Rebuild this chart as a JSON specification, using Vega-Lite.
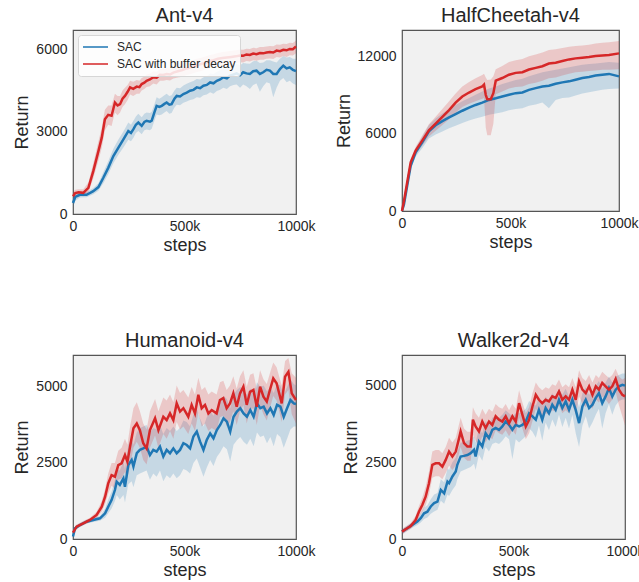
{
  "$schema": "https://vega.github.io/schema/vega-lite/v6.json",
  "padding": {"left": 13, "top": 5, "right": 5, "bottom": 5},
  "background": "white",
  "datasets": {
    "ant": [
      {"method":"SAC","step":0,"ret":400,"lo":250,"hi":550},
      {"method":"SAC","step":10,"ret":620,"lo":480,"hi":760},
      {"method":"SAC","step":31,"ret":700,"lo":600,"hi":800},
      {"method":"SAC","step":61,"ret":700,"lo":610,"hi":800},
      {"method":"SAC","step":91,"ret":830,"lo":720,"hi":950},
      {"method":"SAC","step":114,"ret":980,"lo":850,"hi":1120},
      {"method":"SAC","step":136,"ret":1320,"lo":1120,"hi":1520},
      {"method":"SAC","step":158,"ret":1680,"lo":1450,"hi":1920},
      {"method":"SAC","step":181,"ret":2110,"lo":1850,"hi":2380},
      {"method":"SAC","step":203,"ret":2410,"lo":2150,"hi":2700},
      {"method":"SAC","step":226,"ret":2720,"lo":2420,"hi":3000},
      {"method":"SAC","step":248,"ret":3020,"lo":2700,"hi":3330},
      {"method":"SAC","step":260,"ret":2950,"lo":2650,"hi":3250},
      {"method":"SAC","step":271,"ret":3090,"lo":2780,"hi":3400},
      {"method":"SAC","step":282,"ret":3250,"lo":2950,"hi":3550},
      {"method":"SAC","step":293,"ret":3330,"lo":3020,"hi":3650},
      {"method":"SAC","step":308,"ret":3210,"lo":2900,"hi":3520},
      {"method":"SAC","step":320,"ret":3350,"lo":3050,"hi":3650},
      {"method":"SAC","step":330,"ret":3390,"lo":3080,"hi":3700},
      {"method":"SAC","step":345,"ret":3360,"lo":3050,"hi":3680},
      {"method":"SAC","step":353,"ret":3400,"lo":3100,"hi":3720},
      {"method":"SAC","step":365,"ret":3700,"lo":3400,"hi":4000},
      {"method":"SAC","step":375,"ret":3940,"lo":3620,"hi":4250},
      {"method":"SAC","step":387,"ret":3900,"lo":3600,"hi":4200},
      {"method":"SAC","step":398,"ret":3940,"lo":3620,"hi":4250},
      {"method":"SAC","step":410,"ret":4010,"lo":3700,"hi":4320},
      {"method":"SAC","step":420,"ret":4060,"lo":3750,"hi":4380},
      {"method":"SAC","step":432,"ret":3980,"lo":3650,"hi":4300},
      {"method":"SAC","step":442,"ret":4000,"lo":3680,"hi":4320},
      {"method":"SAC","step":455,"ret":4200,"lo":3880,"hi":4500},
      {"method":"SAC","step":465,"ret":4300,"lo":3980,"hi":4600},
      {"method":"SAC","step":480,"ret":4280,"lo":3960,"hi":4580},
      {"method":"SAC","step":495,"ret":4370,"lo":4050,"hi":4680},
      {"method":"SAC","step":510,"ret":4420,"lo":4100,"hi":4740},
      {"method":"SAC","step":525,"ret":4490,"lo":4150,"hi":4800},
      {"method":"SAC","step":540,"ret":4520,"lo":4180,"hi":4840},
      {"method":"SAC","step":555,"ret":4610,"lo":4250,"hi":4920},
      {"method":"SAC","step":570,"ret":4580,"lo":4230,"hi":4900},
      {"method":"SAC","step":585,"ret":4670,"lo":4320,"hi":4980},
      {"method":"SAC","step":600,"ret":4700,"lo":4350,"hi":5020},
      {"method":"SAC","step":615,"ret":4790,"lo":4430,"hi":5120},
      {"method":"SAC","step":630,"ret":4760,"lo":4380,"hi":5100},
      {"method":"SAC","step":645,"ret":4850,"lo":4480,"hi":5180},
      {"method":"SAC","step":660,"ret":4900,"lo":4520,"hi":5230},
      {"method":"SAC","step":674,"ret":4980,"lo":4600,"hi":5300},
      {"method":"SAC","step":690,"ret":4940,"lo":4550,"hi":5280},
      {"method":"SAC","step":704,"ret":5040,"lo":4650,"hi":5380},
      {"method":"SAC","step":720,"ret":5080,"lo":4700,"hi":5420},
      {"method":"SAC","step":734,"ret":5120,"lo":4720,"hi":5460},
      {"method":"SAC","step":749,"ret":5050,"lo":4600,"hi":5420},
      {"method":"SAC","step":763,"ret":5160,"lo":4720,"hi":5500},
      {"method":"SAC","step":778,"ret":5120,"lo":4650,"hi":5480},
      {"method":"SAC","step":793,"ret":5100,"lo":4550,"hi":5470},
      {"method":"SAC","step":808,"ret":5200,"lo":4700,"hi":5560},
      {"method":"SAC","step":823,"ret":5220,"lo":4750,"hi":5580},
      {"method":"SAC","step":838,"ret":5100,"lo":4450,"hi":5500},
      {"method":"SAC","step":853,"ret":5160,"lo":4650,"hi":5520},
      {"method":"SAC","step":868,"ret":5250,"lo":4800,"hi":5600},
      {"method":"SAC","step":883,"ret":5220,"lo":4750,"hi":5600},
      {"method":"SAC","step":898,"ret":5100,"lo":4250,"hi":5550},
      {"method":"SAC","step":913,"ret":5100,"lo":4600,"hi":5520},
      {"method":"SAC","step":928,"ret":5280,"lo":4850,"hi":5650},
      {"method":"SAC","step":943,"ret":5400,"lo":4950,"hi":5750},
      {"method":"SAC","step":958,"ret":5300,"lo":4800,"hi":5700},
      {"method":"SAC","step":972,"ret":5340,"lo":4850,"hi":5720},
      {"method":"SAC","step":986,"ret":5250,"lo":4750,"hi":5650},
      {"method":"SAC","step":1000,"ret":5200,"lo":4700,"hi":5650},
      {"method":"SAC with buffer decay","step":0,"ret":650,"lo":500,"hi":800},
      {"method":"SAC with buffer decay","step":10,"ret":760,"lo":620,"hi":880},
      {"method":"SAC with buffer decay","step":25,"ret":790,"lo":680,"hi":900},
      {"method":"SAC with buffer decay","step":46,"ret":770,"lo":650,"hi":900},
      {"method":"SAC with buffer decay","step":69,"ret":950,"lo":780,"hi":1150},
      {"method":"SAC with buffer decay","step":91,"ret":1560,"lo":1300,"hi":1850},
      {"method":"SAC with buffer decay","step":114,"ret":2290,"lo":1950,"hi":2650},
      {"method":"SAC with buffer decay","step":129,"ret":2780,"lo":2400,"hi":3150},
      {"method":"SAC with buffer decay","step":143,"ret":3450,"lo":3050,"hi":3800},
      {"method":"SAC with buffer decay","step":158,"ret":3610,"lo":3250,"hi":3950},
      {"method":"SAC with buffer decay","step":173,"ret":3580,"lo":3200,"hi":3950},
      {"method":"SAC with buffer decay","step":188,"ret":4060,"lo":3700,"hi":4380},
      {"method":"SAC with buffer decay","step":200,"ret":3950,"lo":3600,"hi":4300},
      {"method":"SAC with buffer decay","step":211,"ret":4000,"lo":3700,"hi":4300},
      {"method":"SAC with buffer decay","step":222,"ret":4200,"lo":3900,"hi":4500},
      {"method":"SAC with buffer decay","step":233,"ret":4300,"lo":4000,"hi":4600},
      {"method":"SAC with buffer decay","step":245,"ret":4450,"lo":4150,"hi":4700},
      {"method":"SAC with buffer decay","step":256,"ret":4610,"lo":4350,"hi":4850},
      {"method":"SAC with buffer decay","step":270,"ret":4560,"lo":4300,"hi":4820},
      {"method":"SAC with buffer decay","step":286,"ret":4640,"lo":4380,"hi":4880},
      {"method":"SAC with buffer decay","step":298,"ret":4620,"lo":4380,"hi":4850},
      {"method":"SAC with buffer decay","step":308,"ret":4730,"lo":4500,"hi":4950},
      {"method":"SAC with buffer decay","step":320,"ret":4780,"lo":4550,"hi":5000},
      {"method":"SAC with buffer decay","step":330,"ret":4850,"lo":4620,"hi":5080},
      {"method":"SAC with buffer decay","step":345,"ret":4900,"lo":4650,"hi":5120},
      {"method":"SAC with buffer decay","step":360,"ret":4980,"lo":4750,"hi":5200},
      {"method":"SAC with buffer decay","step":375,"ret":4960,"lo":4720,"hi":5180},
      {"method":"SAC with buffer decay","step":390,"ret":5070,"lo":4850,"hi":5280},
      {"method":"SAC with buffer decay","step":405,"ret":5060,"lo":4850,"hi":5280},
      {"method":"SAC with buffer decay","step":420,"ret":5100,"lo":4880,"hi":5320},
      {"method":"SAC with buffer decay","step":435,"ret":5080,"lo":4860,"hi":5300},
      {"method":"SAC with buffer decay","step":450,"ret":5150,"lo":4930,"hi":5380},
      {"method":"SAC with buffer decay","step":470,"ret":5200,"lo":4970,"hi":5420},
      {"method":"SAC with buffer decay","step":490,"ret":5240,"lo":5000,"hi":5480},
      {"method":"SAC with buffer decay","step":510,"ret":5300,"lo":5060,"hi":5540},
      {"method":"SAC with buffer decay","step":530,"ret":5350,"lo":5100,"hi":5580},
      {"method":"SAC with buffer decay","step":550,"ret":5400,"lo":5150,"hi":5640},
      {"method":"SAC with buffer decay","step":570,"ret":5450,"lo":5200,"hi":5680},
      {"method":"SAC with buffer decay","step":590,"ret":5500,"lo":5250,"hi":5730},
      {"method":"SAC with buffer decay","step":610,"ret":5560,"lo":5300,"hi":5780},
      {"method":"SAC with buffer decay","step":630,"ret":5600,"lo":5350,"hi":5820},
      {"method":"SAC with buffer decay","step":650,"ret":5650,"lo":5400,"hi":5860},
      {"method":"SAC with buffer decay","step":670,"ret":5680,"lo":5430,"hi":5900},
      {"method":"SAC with buffer decay","step":690,"ret":5700,"lo":5460,"hi":5920},
      {"method":"SAC with buffer decay","step":710,"ret":5720,"lo":5480,"hi":5940},
      {"method":"SAC with buffer decay","step":730,"ret":5740,"lo":5500,"hi":5960},
      {"method":"SAC with buffer decay","step":749,"ret":5770,"lo":5530,"hi":5990},
      {"method":"SAC with buffer decay","step":763,"ret":5760,"lo":5520,"hi":5980},
      {"method":"SAC with buffer decay","step":778,"ret":5810,"lo":5570,"hi":6020},
      {"method":"SAC with buffer decay","step":793,"ret":5790,"lo":5550,"hi":6010},
      {"method":"SAC with buffer decay","step":808,"ret":5840,"lo":5600,"hi":6050},
      {"method":"SAC with buffer decay","step":823,"ret":5820,"lo":5580,"hi":6040},
      {"method":"SAC with buffer decay","step":838,"ret":5860,"lo":5620,"hi":6080},
      {"method":"SAC with buffer decay","step":853,"ret":5850,"lo":5620,"hi":6080},
      {"method":"SAC with buffer decay","step":868,"ret":5880,"lo":5650,"hi":6100},
      {"method":"SAC with buffer decay","step":883,"ret":5900,"lo":5660,"hi":6120},
      {"method":"SAC with buffer decay","step":898,"ret":5880,"lo":5640,"hi":6110},
      {"method":"SAC with buffer decay","step":913,"ret":5950,"lo":5720,"hi":6170},
      {"method":"SAC with buffer decay","step":928,"ret":5930,"lo":5700,"hi":6160},
      {"method":"SAC with buffer decay","step":943,"ret":5980,"lo":5750,"hi":6200},
      {"method":"SAC with buffer decay","step":958,"ret":5960,"lo":5720,"hi":6190},
      {"method":"SAC with buffer decay","step":972,"ret":6010,"lo":5780,"hi":6240},
      {"method":"SAC with buffer decay","step":986,"ret":6000,"lo":5770,"hi":6230},
      {"method":"SAC with buffer decay","step":1000,"ret":6100,"lo":5850,"hi":6320}
    ],
    "hc": [
      {"method":"SAC","step":0,"ret":0,"lo":0,"hi":0},
      {"method":"SAC","step":9,"ret":500,"lo":400,"hi":600},
      {"method":"SAC","step":25,"ret":2080,"lo":1850,"hi":2300},
      {"method":"SAC","step":40,"ret":3520,"lo":3250,"hi":3800},
      {"method":"SAC","step":63,"ret":4580,"lo":4250,"hi":4900},
      {"method":"SAC","step":94,"ret":5370,"lo":4900,"hi":5800},
      {"method":"SAC","step":124,"ret":6200,"lo":5650,"hi":6700},
      {"method":"SAC","step":155,"ret":6680,"lo":5950,"hi":7200},
      {"method":"SAC","step":186,"ret":7000,"lo":6200,"hi":7600},
      {"method":"SAC","step":217,"ret":7290,"lo":6450,"hi":7950},
      {"method":"SAC","step":247,"ret":7550,"lo":6650,"hi":8250},
      {"method":"SAC","step":278,"ret":7810,"lo":6850,"hi":8550},
      {"method":"SAC","step":309,"ret":8050,"lo":7050,"hi":8800},
      {"method":"SAC","step":339,"ret":8260,"lo":7200,"hi":9050},
      {"method":"SAC","step":370,"ret":8440,"lo":7350,"hi":9300},
      {"method":"SAC","step":401,"ret":8650,"lo":7500,"hi":9550},
      {"method":"SAC","step":432,"ret":8780,"lo":7600,"hi":9700},
      {"method":"SAC","step":462,"ret":8920,"lo":7700,"hi":9900},
      {"method":"SAC","step":493,"ret":9050,"lo":7850,"hi":10050},
      {"method":"SAC","step":524,"ret":9180,"lo":7950,"hi":10200},
      {"method":"SAC","step":555,"ret":9230,"lo":8000,"hi":10300},
      {"method":"SAC","step":585,"ret":9440,"lo":8200,"hi":10500},
      {"method":"SAC","step":616,"ret":9570,"lo":8300,"hi":10650},
      {"method":"SAC","step":647,"ret":9700,"lo":8450,"hi":10800},
      {"method":"SAC","step":677,"ret":9760,"lo":8000,"hi":10900},
      {"method":"SAC","step":708,"ret":9910,"lo":8650,"hi":11000},
      {"method":"SAC","step":739,"ret":10020,"lo":8800,"hi":11100},
      {"method":"SAC","step":770,"ret":10100,"lo":8850,"hi":11200},
      {"method":"SAC","step":800,"ret":10230,"lo":9000,"hi":11300},
      {"method":"SAC","step":831,"ret":10360,"lo":9150,"hi":11400},
      {"method":"SAC","step":862,"ret":10440,"lo":9250,"hi":11450},
      {"method":"SAC","step":892,"ret":10550,"lo":9350,"hi":11500},
      {"method":"SAC","step":923,"ret":10620,"lo":9450,"hi":11550},
      {"method":"SAC","step":954,"ret":10680,"lo":9500,"hi":11600},
      {"method":"SAC","step":1000,"ret":10490,"lo":9550,"hi":11550},
      {"method":"SAC with buffer decay","step":0,"ret":0,"lo":0,"hi":0},
      {"method":"SAC with buffer decay","step":9,"ret":760,"lo":600,"hi":950},
      {"method":"SAC with buffer decay","step":25,"ret":2340,"lo":2100,"hi":2600},
      {"method":"SAC with buffer decay","step":40,"ret":3790,"lo":3500,"hi":4050},
      {"method":"SAC with buffer decay","step":63,"ret":4710,"lo":4400,"hi":5000},
      {"method":"SAC with buffer decay","step":94,"ret":5500,"lo":5100,"hi":5900},
      {"method":"SAC with buffer decay","step":124,"ret":6290,"lo":5800,"hi":6750},
      {"method":"SAC with buffer decay","step":155,"ret":6810,"lo":6250,"hi":7350},
      {"method":"SAC with buffer decay","step":186,"ret":7340,"lo":6700,"hi":7950},
      {"method":"SAC with buffer decay","step":217,"ret":7860,"lo":7150,"hi":8550},
      {"method":"SAC with buffer decay","step":247,"ret":8440,"lo":7650,"hi":9150},
      {"method":"SAC with buffer decay","step":278,"ret":8920,"lo":8100,"hi":9700},
      {"method":"SAC with buffer decay","step":309,"ret":9230,"lo":8350,"hi":10050},
      {"method":"SAC with buffer decay","step":339,"ret":9490,"lo":8550,"hi":10350},
      {"method":"SAC with buffer decay","step":370,"ret":9700,"lo":8750,"hi":10600},
      {"method":"SAC with buffer decay","step":378,"ret":9840,"lo":8800,"hi":10700},
      {"method":"SAC with buffer decay","step":386,"ret":9050,"lo":6500,"hi":10400},
      {"method":"SAC with buffer decay","step":393,"ret":8700,"lo":5900,"hi":10200},
      {"method":"SAC with buffer decay","step":409,"ret":8700,"lo":5900,"hi":10250},
      {"method":"SAC with buffer decay","step":421,"ret":9180,"lo":6800,"hi":10500},
      {"method":"SAC with buffer decay","step":432,"ret":10150,"lo":9100,"hi":11050},
      {"method":"SAC with buffer decay","step":462,"ret":10360,"lo":9300,"hi":11300},
      {"method":"SAC with buffer decay","step":493,"ret":10620,"lo":9550,"hi":11600},
      {"method":"SAC with buffer decay","step":524,"ret":10760,"lo":9650,"hi":11750},
      {"method":"SAC with buffer decay","step":555,"ret":10810,"lo":9700,"hi":11850},
      {"method":"SAC with buffer decay","step":585,"ret":11020,"lo":9900,"hi":12050},
      {"method":"SAC with buffer decay","step":616,"ret":11150,"lo":10000,"hi":12200},
      {"method":"SAC with buffer decay","step":647,"ret":11280,"lo":10150,"hi":12350},
      {"method":"SAC with buffer decay","step":677,"ret":11490,"lo":10350,"hi":12550},
      {"method":"SAC with buffer decay","step":708,"ret":11550,"lo":10400,"hi":12600},
      {"method":"SAC with buffer decay","step":739,"ret":11680,"lo":10550,"hi":12700},
      {"method":"SAC with buffer decay","step":770,"ret":11810,"lo":10700,"hi":12800},
      {"method":"SAC with buffer decay","step":800,"ret":11890,"lo":10800,"hi":12850},
      {"method":"SAC with buffer decay","step":831,"ret":11940,"lo":10850,"hi":12900},
      {"method":"SAC with buffer decay","step":862,"ret":11990,"lo":10900,"hi":12950},
      {"method":"SAC with buffer decay","step":892,"ret":12070,"lo":10950,"hi":13050},
      {"method":"SAC with buffer decay","step":923,"ret":12120,"lo":11000,"hi":13100},
      {"method":"SAC with buffer decay","step":954,"ret":12150,"lo":11000,"hi":13150},
      {"method":"SAC with buffer decay","step":1000,"ret":12280,"lo":11050,"hi":13250}
    ],
    "hum": [
      {"method":"SAC","step":0,"ret":80,"lo":0,"hi":160},
      {"method":"SAC","step":9,"ret":350,"lo":280,"hi":420},
      {"method":"SAC","step":31,"ret":460,"lo":400,"hi":520},
      {"method":"SAC","step":61,"ret":570,"lo":510,"hi":630},
      {"method":"SAC","step":91,"ret":625,"lo":560,"hi":690},
      {"method":"SAC","step":121,"ret":680,"lo":600,"hi":760},
      {"method":"SAC","step":144,"ret":845,"lo":700,"hi":1000},
      {"method":"SAC","step":158,"ret":1060,"lo":850,"hi":1300},
      {"method":"SAC","step":173,"ret":1280,"lo":1000,"hi":1550},
      {"method":"SAC","step":188,"ret":1610,"lo":1250,"hi":1950},
      {"method":"SAC","step":196,"ret":1885,"lo":1450,"hi":2300},
      {"method":"SAC","step":210,"ret":1780,"lo":1300,"hi":2250},
      {"method":"SAC","step":226,"ret":1995,"lo":1450,"hi":2550},
      {"method":"SAC","step":233,"ret":1720,"lo":1200,"hi":2300},
      {"method":"SAC","step":248,"ret":2430,"lo":1800,"hi":3100},
      {"method":"SAC","step":263,"ret":2600,"lo":1900,"hi":3300},
      {"method":"SAC","step":271,"ret":2380,"lo":1700,"hi":3100},
      {"method":"SAC","step":286,"ret":2820,"lo":2100,"hi":3500},
      {"method":"SAC","step":300,"ret":2930,"lo":2150,"hi":3650},
      {"method":"SAC","step":315,"ret":2980,"lo":2200,"hi":3700},
      {"method":"SAC","step":330,"ret":3040,"lo":2250,"hi":3750},
      {"method":"SAC","step":345,"ret":2760,"lo":1950,"hi":3500},
      {"method":"SAC","step":360,"ret":2930,"lo":2150,"hi":3650},
      {"method":"SAC","step":375,"ret":2870,"lo":2050,"hi":3600},
      {"method":"SAC","step":390,"ret":3040,"lo":2250,"hi":3750},
      {"method":"SAC","step":405,"ret":2710,"lo":1900,"hi":3450},
      {"method":"SAC","step":420,"ret":2930,"lo":2100,"hi":3650},
      {"method":"SAC","step":435,"ret":2820,"lo":2000,"hi":3550},
      {"method":"SAC","step":450,"ret":2980,"lo":2150,"hi":3700},
      {"method":"SAC","step":465,"ret":2820,"lo":2000,"hi":3550},
      {"method":"SAC","step":480,"ret":2930,"lo":2100,"hi":3650},
      {"method":"SAC","step":495,"ret":3150,"lo":2300,"hi":3900},
      {"method":"SAC","step":510,"ret":3090,"lo":2250,"hi":3850},
      {"method":"SAC","step":525,"ret":2980,"lo":2150,"hi":3700},
      {"method":"SAC","step":540,"ret":3370,"lo":2500,"hi":4100},
      {"method":"SAC","step":555,"ret":3530,"lo":2650,"hi":4300},
      {"method":"SAC","step":570,"ret":3200,"lo":2350,"hi":3950},
      {"method":"SAC","step":585,"ret":2930,"lo":2050,"hi":3700},
      {"method":"SAC","step":600,"ret":3260,"lo":2350,"hi":4000},
      {"method":"SAC","step":615,"ret":3470,"lo":2600,"hi":4200},
      {"method":"SAC","step":630,"ret":3310,"lo":2400,"hi":4050},
      {"method":"SAC","step":645,"ret":3580,"lo":2700,"hi":4300},
      {"method":"SAC","step":660,"ret":3750,"lo":2850,"hi":4500},
      {"method":"SAC","step":675,"ret":3970,"lo":3050,"hi":4700},
      {"method":"SAC","step":690,"ret":3860,"lo":2950,"hi":4600},
      {"method":"SAC","step":705,"ret":3530,"lo":2550,"hi":4300},
      {"method":"SAC","step":720,"ret":4020,"lo":3100,"hi":4750},
      {"method":"SAC","step":735,"ret":4190,"lo":3250,"hi":4900},
      {"method":"SAC","step":750,"ret":4300,"lo":3350,"hi":5000},
      {"method":"SAC","step":765,"ret":4130,"lo":3200,"hi":4850},
      {"method":"SAC","step":780,"ret":4020,"lo":3100,"hi":4750},
      {"method":"SAC","step":795,"ret":4240,"lo":3300,"hi":4950},
      {"method":"SAC","step":810,"ret":4020,"lo":3050,"hi":4750},
      {"method":"SAC","step":825,"ret":4460,"lo":3500,"hi":5150},
      {"method":"SAC","step":840,"ret":4300,"lo":3350,"hi":5000},
      {"method":"SAC","step":855,"ret":4350,"lo":3400,"hi":5050},
      {"method":"SAC","step":870,"ret":4130,"lo":3150,"hi":4850},
      {"method":"SAC","step":885,"ret":4300,"lo":3350,"hi":5000},
      {"method":"SAC","step":900,"ret":4080,"lo":3050,"hi":4800},
      {"method":"SAC","step":915,"ret":4410,"lo":3450,"hi":5100},
      {"method":"SAC","step":930,"ret":4350,"lo":3350,"hi":5050},
      {"method":"SAC","step":945,"ret":4020,"lo":3000,"hi":4750},
      {"method":"SAC","step":960,"ret":4300,"lo":3300,"hi":5000},
      {"method":"SAC","step":975,"ret":4570,"lo":3600,"hi":5250},
      {"method":"SAC","step":990,"ret":4460,"lo":3700,"hi":5100},
      {"method":"SAC","step":1000,"ret":4440,"lo":3700,"hi":5050},
      {"method":"SAC with buffer decay","step":0,"ret":210,"lo":120,"hi":300},
      {"method":"SAC with buffer decay","step":16,"ret":405,"lo":330,"hi":480},
      {"method":"SAC with buffer decay","step":46,"ret":515,"lo":450,"hi":590},
      {"method":"SAC with buffer decay","step":76,"ret":625,"lo":550,"hi":700},
      {"method":"SAC with buffer decay","step":106,"ret":790,"lo":680,"hi":900},
      {"method":"SAC with buffer decay","step":129,"ret":1060,"lo":900,"hi":1250},
      {"method":"SAC with buffer decay","step":144,"ret":1390,"lo":1150,"hi":1650},
      {"method":"SAC with buffer decay","step":158,"ret":1830,"lo":1500,"hi":2150},
      {"method":"SAC with buffer decay","step":173,"ret":2100,"lo":1750,"hi":2500},
      {"method":"SAC with buffer decay","step":188,"ret":2050,"lo":1650,"hi":2500},
      {"method":"SAC with buffer decay","step":203,"ret":2430,"lo":1950,"hi":2900},
      {"method":"SAC with buffer decay","step":218,"ret":2490,"lo":2000,"hi":3000},
      {"method":"SAC with buffer decay","step":233,"ret":2760,"lo":2200,"hi":3300},
      {"method":"SAC with buffer decay","step":244,"ret":2540,"lo":2000,"hi":3100},
      {"method":"SAC with buffer decay","step":256,"ret":3040,"lo":2400,"hi":3700},
      {"method":"SAC with buffer decay","step":271,"ret":3640,"lo":3000,"hi":4300},
      {"method":"SAC with buffer decay","step":286,"ret":3800,"lo":3200,"hi":4500},
      {"method":"SAC with buffer decay","step":300,"ret":3580,"lo":3000,"hi":4200},
      {"method":"SAC with buffer decay","step":315,"ret":3150,"lo":2600,"hi":3800},
      {"method":"SAC with buffer decay","step":330,"ret":2980,"lo":2450,"hi":3600},
      {"method":"SAC with buffer decay","step":345,"ret":3580,"lo":3000,"hi":4200},
      {"method":"SAC with buffer decay","step":368,"ret":3970,"lo":3400,"hi":4600},
      {"method":"SAC with buffer decay","step":383,"ret":3580,"lo":3000,"hi":4200},
      {"method":"SAC with buffer decay","step":405,"ret":4020,"lo":3450,"hi":4650},
      {"method":"SAC with buffer decay","step":420,"ret":3910,"lo":3300,"hi":4550},
      {"method":"SAC with buffer decay","step":435,"ret":4130,"lo":3550,"hi":4750},
      {"method":"SAC with buffer decay","step":450,"ret":3910,"lo":3300,"hi":4500},
      {"method":"SAC with buffer decay","step":465,"ret":4460,"lo":3850,"hi":5050},
      {"method":"SAC with buffer decay","step":480,"ret":4190,"lo":3600,"hi":4800},
      {"method":"SAC with buffer decay","step":495,"ret":4300,"lo":3700,"hi":4900},
      {"method":"SAC with buffer decay","step":517,"ret":4020,"lo":3450,"hi":4650},
      {"method":"SAC with buffer decay","step":532,"ret":4410,"lo":3800,"hi":5000},
      {"method":"SAC with buffer decay","step":547,"ret":4130,"lo":3550,"hi":4750},
      {"method":"SAC with buffer decay","step":562,"ret":4740,"lo":4150,"hi":5300},
      {"method":"SAC with buffer decay","step":577,"ret":4300,"lo":3700,"hi":4900},
      {"method":"SAC with buffer decay","step":592,"ret":4410,"lo":3800,"hi":5000},
      {"method":"SAC with buffer decay","step":607,"ret":4130,"lo":3550,"hi":4750},
      {"method":"SAC with buffer decay","step":622,"ret":4240,"lo":3650,"hi":4850},
      {"method":"SAC with buffer decay","step":644,"ret":4130,"lo":3550,"hi":4750},
      {"method":"SAC with buffer decay","step":659,"ret":4570,"lo":4000,"hi":5150},
      {"method":"SAC with buffer decay","step":674,"ret":4630,"lo":4050,"hi":5200},
      {"method":"SAC with buffer decay","step":689,"ret":4300,"lo":3700,"hi":4900},
      {"method":"SAC with buffer decay","step":704,"ret":4460,"lo":3850,"hi":5050},
      {"method":"SAC with buffer decay","step":719,"ret":4790,"lo":4200,"hi":5350},
      {"method":"SAC with buffer decay","step":734,"ret":4350,"lo":3750,"hi":4950},
      {"method":"SAC with buffer decay","step":749,"ret":4790,"lo":4200,"hi":5350},
      {"method":"SAC with buffer decay","step":764,"ret":5010,"lo":4400,"hi":5550},
      {"method":"SAC with buffer decay","step":779,"ret":4410,"lo":3800,"hi":5000},
      {"method":"SAC with buffer decay","step":794,"ret":4840,"lo":4250,"hi":5400},
      {"method":"SAC with buffer decay","step":809,"ret":4900,"lo":4300,"hi":5450},
      {"method":"SAC with buffer decay","step":824,"ret":4350,"lo":3750,"hi":4950},
      {"method":"SAC with buffer decay","step":839,"ret":5010,"lo":4400,"hi":5550},
      {"method":"SAC with buffer decay","step":854,"ret":4680,"lo":4100,"hi":5250},
      {"method":"SAC with buffer decay","step":869,"ret":4520,"lo":3900,"hi":5100},
      {"method":"SAC with buffer decay","step":883,"ret":4900,"lo":4300,"hi":5450},
      {"method":"SAC with buffer decay","step":898,"ret":5280,"lo":4700,"hi":5800},
      {"method":"SAC with buffer decay","step":913,"ret":5120,"lo":4550,"hi":5650},
      {"method":"SAC with buffer decay","step":936,"ret":4460,"lo":3850,"hi":5050},
      {"method":"SAC with buffer decay","step":951,"ret":5340,"lo":4750,"hi":5850},
      {"method":"SAC with buffer decay","step":966,"ret":5500,"lo":4900,"hi":5950},
      {"method":"SAC with buffer decay","step":981,"ret":4790,"lo":4100,"hi":5450},
      {"method":"SAC with buffer decay","step":1000,"ret":4570,"lo":3800,"hi":5300}
    ],
    "walk": [
      {"method":"SAC","step":0,"ret":240,"lo":150,"hi":330},
      {"method":"SAC","step":24,"ret":350,"lo":270,"hi":430},
      {"method":"SAC","step":46,"ret":460,"lo":370,"hi":550},
      {"method":"SAC","step":69,"ret":570,"lo":460,"hi":680},
      {"method":"SAC","step":84,"ret":680,"lo":540,"hi":820},
      {"method":"SAC","step":99,"ret":840,"lo":650,"hi":1030},
      {"method":"SAC","step":114,"ret":890,"lo":700,"hi":1100},
      {"method":"SAC","step":129,"ret":1060,"lo":820,"hi":1300},
      {"method":"SAC","step":144,"ret":1170,"lo":900,"hi":1450},
      {"method":"SAC","step":159,"ret":1220,"lo":950,"hi":1500},
      {"method":"SAC","step":174,"ret":1600,"lo":1250,"hi":1950},
      {"method":"SAC","step":189,"ret":1490,"lo":1150,"hi":1850},
      {"method":"SAC","step":204,"ret":1870,"lo":1450,"hi":2300},
      {"method":"SAC","step":211,"ret":1820,"lo":1400,"hi":2250},
      {"method":"SAC","step":226,"ret":2040,"lo":1600,"hi":2500},
      {"method":"SAC","step":241,"ret":2200,"lo":1750,"hi":2650},
      {"method":"SAC","step":248,"ret":2420,"lo":1950,"hi":2850},
      {"method":"SAC","step":263,"ret":2690,"lo":2200,"hi":3150},
      {"method":"SAC","step":278,"ret":2710,"lo":2250,"hi":3150},
      {"method":"SAC","step":293,"ret":2740,"lo":2300,"hi":3200},
      {"method":"SAC","step":308,"ret":2800,"lo":2350,"hi":3250},
      {"method":"SAC","step":323,"ret":2910,"lo":2450,"hi":3350},
      {"method":"SAC","step":330,"ret":2690,"lo":2250,"hi":3150},
      {"method":"SAC","step":345,"ret":3180,"lo":2750,"hi":3600},
      {"method":"SAC","step":360,"ret":3020,"lo":2550,"hi":3450},
      {"method":"SAC","step":375,"ret":3450,"lo":3000,"hi":3850},
      {"method":"SAC","step":390,"ret":3290,"lo":2850,"hi":3700},
      {"method":"SAC","step":405,"ret":3560,"lo":3100,"hi":3950},
      {"method":"SAC","step":420,"ret":3620,"lo":3150,"hi":4000},
      {"method":"SAC","step":435,"ret":3560,"lo":3100,"hi":3950},
      {"method":"SAC","step":450,"ret":3670,"lo":3200,"hi":4050},
      {"method":"SAC","step":465,"ret":3830,"lo":3350,"hi":4200},
      {"method":"SAC","step":480,"ret":3720,"lo":3250,"hi":4100},
      {"method":"SAC","step":495,"ret":3560,"lo":2600,"hi":4000},
      {"method":"SAC","step":510,"ret":3720,"lo":3250,"hi":4100},
      {"method":"SAC","step":525,"ret":3670,"lo":3150,"hi":4100},
      {"method":"SAC","step":540,"ret":3720,"lo":3250,"hi":4150},
      {"method":"SAC","step":555,"ret":3830,"lo":3350,"hi":4250},
      {"method":"SAC","step":570,"ret":4100,"lo":3600,"hi":4500},
      {"method":"SAC","step":585,"ret":4000,"lo":3500,"hi":4400},
      {"method":"SAC","step":600,"ret":3890,"lo":3300,"hi":4350},
      {"method":"SAC","step":614,"ret":4210,"lo":3700,"hi":4600},
      {"method":"SAC","step":629,"ret":3890,"lo":3200,"hi":4350},
      {"method":"SAC","step":644,"ret":4270,"lo":3800,"hi":4650},
      {"method":"SAC","step":659,"ret":4100,"lo":3550,"hi":4500},
      {"method":"SAC","step":674,"ret":4380,"lo":3900,"hi":4750},
      {"method":"SAC","step":689,"ret":4210,"lo":3650,"hi":4600},
      {"method":"SAC","step":704,"ret":4540,"lo":4050,"hi":4900},
      {"method":"SAC","step":719,"ret":4270,"lo":3650,"hi":4700},
      {"method":"SAC","step":734,"ret":4490,"lo":3950,"hi":4900},
      {"method":"SAC","step":749,"ret":4210,"lo":3600,"hi":4650},
      {"method":"SAC","step":764,"ret":4540,"lo":4050,"hi":4950},
      {"method":"SAC","step":779,"ret":4210,"lo":3450,"hi":4650},
      {"method":"SAC","step":794,"ret":3780,"lo":3000,"hi":4300},
      {"method":"SAC","step":809,"ret":4320,"lo":3700,"hi":4750},
      {"method":"SAC","step":824,"ret":4540,"lo":4000,"hi":4950},
      {"method":"SAC","step":839,"ret":4270,"lo":3600,"hi":4700},
      {"method":"SAC","step":854,"ret":4380,"lo":3800,"hi":4800},
      {"method":"SAC","step":869,"ret":4600,"lo":4050,"hi":5000},
      {"method":"SAC","step":883,"ret":4760,"lo":4250,"hi":5150},
      {"method":"SAC","step":898,"ret":4430,"lo":3600,"hi":4900},
      {"method":"SAC","step":913,"ret":4650,"lo":4100,"hi":5100},
      {"method":"SAC","step":928,"ret":4920,"lo":4400,"hi":5300},
      {"method":"SAC","step":943,"ret":4650,"lo":4050,"hi":5100},
      {"method":"SAC","step":958,"ret":4870,"lo":4350,"hi":5300},
      {"method":"SAC","step":973,"ret":4980,"lo":4500,"hi":5350},
      {"method":"SAC","step":988,"ret":5030,"lo":4550,"hi":5400},
      {"method":"SAC","step":1000,"ret":5000,"lo":4550,"hi":5400},
      {"method":"SAC with buffer decay","step":0,"ret":240,"lo":150,"hi":330},
      {"method":"SAC with buffer decay","step":16,"ret":320,"lo":230,"hi":410},
      {"method":"SAC with buffer decay","step":39,"ret":425,"lo":330,"hi":520},
      {"method":"SAC with buffer decay","step":61,"ret":620,"lo":500,"hi":750},
      {"method":"SAC with buffer decay","step":76,"ret":890,"lo":720,"hi":1080},
      {"method":"SAC with buffer decay","step":91,"ret":1110,"lo":900,"hi":1350},
      {"method":"SAC with buffer decay","step":106,"ret":1380,"lo":1100,"hi":1700},
      {"method":"SAC with buffer decay","step":121,"ret":1820,"lo":1450,"hi":2200},
      {"method":"SAC with buffer decay","step":136,"ret":2420,"lo":2000,"hi":2850},
      {"method":"SAC with buffer decay","step":151,"ret":2470,"lo":2050,"hi":2900},
      {"method":"SAC with buffer decay","step":166,"ret":2470,"lo":2050,"hi":2900},
      {"method":"SAC with buffer decay","step":181,"ret":2360,"lo":1950,"hi":2800},
      {"method":"SAC with buffer decay","step":196,"ret":2580,"lo":2150,"hi":3000},
      {"method":"SAC with buffer decay","step":211,"ret":2850,"lo":2400,"hi":3300},
      {"method":"SAC with buffer decay","step":226,"ret":2690,"lo":2250,"hi":3150},
      {"method":"SAC with buffer decay","step":241,"ret":2850,"lo":2400,"hi":3300},
      {"method":"SAC with buffer decay","step":256,"ret":3290,"lo":2800,"hi":3750},
      {"method":"SAC with buffer decay","step":263,"ret":3510,"lo":3000,"hi":3950},
      {"method":"SAC with buffer decay","step":278,"ret":3130,"lo":2650,"hi":3600},
      {"method":"SAC with buffer decay","step":293,"ret":3020,"lo":2550,"hi":3500},
      {"method":"SAC with buffer decay","step":308,"ret":3020,"lo":2550,"hi":3500},
      {"method":"SAC with buffer decay","step":318,"ret":3890,"lo":3400,"hi":4300},
      {"method":"SAC with buffer decay","step":330,"ret":3670,"lo":3200,"hi":4100},
      {"method":"SAC with buffer decay","step":345,"ret":3510,"lo":3050,"hi":3950},
      {"method":"SAC with buffer decay","step":360,"ret":3830,"lo":3350,"hi":4250},
      {"method":"SAC with buffer decay","step":375,"ret":3620,"lo":3150,"hi":4050},
      {"method":"SAC with buffer decay","step":390,"ret":3830,"lo":3350,"hi":4250},
      {"method":"SAC with buffer decay","step":405,"ret":3720,"lo":3250,"hi":4150},
      {"method":"SAC with buffer decay","step":420,"ret":4000,"lo":3550,"hi":4400},
      {"method":"SAC with buffer decay","step":435,"ret":3890,"lo":3450,"hi":4300},
      {"method":"SAC with buffer decay","step":450,"ret":3830,"lo":3400,"hi":4250},
      {"method":"SAC with buffer decay","step":465,"ret":4000,"lo":3550,"hi":4400},
      {"method":"SAC with buffer decay","step":480,"ret":3780,"lo":3350,"hi":4200},
      {"method":"SAC with buffer decay","step":495,"ret":4000,"lo":3550,"hi":4400},
      {"method":"SAC with buffer decay","step":510,"ret":3830,"lo":3400,"hi":4250},
      {"method":"SAC with buffer decay","step":525,"ret":4430,"lo":3950,"hi":4850},
      {"method":"SAC with buffer decay","step":540,"ret":4050,"lo":3600,"hi":4450},
      {"method":"SAC with buffer decay","step":555,"ret":3670,"lo":3250,"hi":4100},
      {"method":"SAC with buffer decay","step":570,"ret":3890,"lo":3450,"hi":4300},
      {"method":"SAC with buffer decay","step":585,"ret":4320,"lo":3850,"hi":4750},
      {"method":"SAC with buffer decay","step":600,"ret":4700,"lo":4250,"hi":5100},
      {"method":"SAC with buffer decay","step":614,"ret":4540,"lo":4100,"hi":4950},
      {"method":"SAC with buffer decay","step":629,"ret":4430,"lo":4000,"hi":4850},
      {"method":"SAC with buffer decay","step":644,"ret":4540,"lo":4100,"hi":4950},
      {"method":"SAC with buffer decay","step":659,"ret":4490,"lo":4050,"hi":4900},
      {"method":"SAC with buffer decay","step":674,"ret":4650,"lo":4200,"hi":5050},
      {"method":"SAC with buffer decay","step":689,"ret":4600,"lo":4150,"hi":5000},
      {"method":"SAC with buffer decay","step":704,"ret":4810,"lo":4350,"hi":5200},
      {"method":"SAC with buffer decay","step":719,"ret":4540,"lo":4100,"hi":4950},
      {"method":"SAC with buffer decay","step":734,"ret":4650,"lo":4200,"hi":5050},
      {"method":"SAC with buffer decay","step":749,"ret":4540,"lo":4100,"hi":4950},
      {"method":"SAC with buffer decay","step":764,"ret":4870,"lo":4400,"hi":5250},
      {"method":"SAC with buffer decay","step":779,"ret":4540,"lo":4050,"hi":4950},
      {"method":"SAC with buffer decay","step":794,"ret":5140,"lo":4650,"hi":5500},
      {"method":"SAC with buffer decay","step":809,"ret":4870,"lo":4400,"hi":5250},
      {"method":"SAC with buffer decay","step":824,"ret":4760,"lo":4300,"hi":5150},
      {"method":"SAC with buffer decay","step":839,"ret":4980,"lo":4500,"hi":5350},
      {"method":"SAC with buffer decay","step":854,"ret":4700,"lo":4250,"hi":5100},
      {"method":"SAC with buffer decay","step":869,"ret":4980,"lo":4550,"hi":5350},
      {"method":"SAC with buffer decay","step":883,"ret":4870,"lo":4450,"hi":5250},
      {"method":"SAC with buffer decay","step":898,"ret":5090,"lo":4650,"hi":5450},
      {"method":"SAC with buffer decay","step":913,"ret":4980,"lo":4550,"hi":5350},
      {"method":"SAC with buffer decay","step":928,"ret":4870,"lo":4400,"hi":5250},
      {"method":"SAC with buffer decay","step":943,"ret":4980,"lo":4550,"hi":5350},
      {"method":"SAC with buffer decay","step":958,"ret":5220,"lo":4800,"hi":5550},
      {"method":"SAC with buffer decay","step":973,"ret":4870,"lo":4350,"hi":5300},
      {"method":"SAC with buffer decay","step":988,"ret":4700,"lo":4000,"hi":5200},
      {"method":"SAC with buffer decay","step":1000,"ret":4650,"lo":3700,"hi":5250}
    ]
  },
  "concat": [
    {
      "width": 223, "height": 184,
      "title": "Ant-v4",
      "data": {"name": "ant"},
      "encoding": {"x": {"field": "step", "type": "quantitative", "scale": {"domain": [0, 1000], "nice": false}, "axis": {"values": [0, 500, 1000], "labelExpr": "datum.value == 0 ? '0' : datum.value + 'k'", "title": "steps"}}},
      "layer": [
        {"transform": [{"filter": "datum.method == 'SAC'"}], "mark": {"type": "area", "opacity": 0.2, "color": "#1f77b4"}, "encoding": {
          "y": {"field": "lo", "type": "quantitative", "scale": {"domain": [0, 6700], "nice": false}, "axis": {"values": [0, 3000, 6000], "format": "d", "title": "Return"}},
          "y2": {"field": "hi"}}},
        {"transform": [{"filter": "datum.method != 'SAC'"}], "mark": {"type": "area", "opacity": 0.2, "color": "#d62728"}, "encoding": {
          "y": {"field": "lo", "type": "quantitative", "axis": {"values": [0, 3000, 6000], "format": "d", "title": "Return"}},
          "y2": {"field": "hi"}}},
        {"mark": {"type": "line", "strokeWidth": 2.5}, "encoding": {
          "y": {"field": "ret", "type": "quantitative", "axis": {"values": [0, 3000, 6000], "format": "d", "title": "Return"}},
          "color": {"field": "method", "type": "nominal", "scale": {"domain": ["SAC", "SAC with buffer decay"], "range": ["#1f77b4", "#d62728"]},
            "legend": {"orient": "top-left", "offset": 5, "title": null, "symbolType": "stroke", "symbolStrokeWidth": 2, "symbolSize": 625, "clipHeight": 16, "symbolOpacity": 0.75, "labelFontSize": 12, "labelColor": "#262626", "labelOffset": 8, "fillColor": "rgba(255,255,255,0.85)", "strokeColor": "#d6d6d6", "padding": 4, "cornerRadius": 3, "rowPadding": 1}}}}
      ]
    },
    {
      "width": 217, "height": 181,
      "title": "HalfCheetah-v4",
      "data": {"name": "hc"},
      "encoding": {"x": {"field": "step", "type": "quantitative", "scale": {"domain": [0, 1000], "nice": false}, "axis": {"values": [0, 500, 1000], "labelExpr": "datum.value == 0 ? '0' : datum.value + 'k'", "title": "steps"}}},
      "layer": [
        {"transform": [{"filter": "datum.method == 'SAC'"}], "mark": {"type": "area", "opacity": 0.2, "color": "#1f77b4"}, "encoding": {
          "y": {"field": "lo", "type": "quantitative", "scale": {"domain": [0, 14100], "nice": false}, "axis": {"values": [0, 6000, 12000], "format": "d", "title": "Return"}},
          "y2": {"field": "hi"}}},
        {"transform": [{"filter": "datum.method != 'SAC'"}], "mark": {"type": "area", "opacity": 0.2, "color": "#d62728"}, "encoding": {
          "y": {"field": "lo", "type": "quantitative", "axis": {"values": [0, 6000, 12000], "format": "d", "title": "Return"}},
          "y2": {"field": "hi"}}},
        {"mark": {"type": "line", "strokeWidth": 2.5}, "encoding": {
          "y": {"field": "ret", "type": "quantitative", "axis": {"values": [0, 6000, 12000], "format": "d", "title": "Return"}},
          "color": {"field": "method", "type": "nominal", "scale": {"domain": ["SAC", "SAC with buffer decay"], "range": ["#1f77b4", "#d62728"]}, "legend": null}}}
      ]
    },
    {
      "width": 223, "height": 184,
      "title": "Humanoid-v4",
      "data": {"name": "hum"},
      "encoding": {"x": {"field": "step", "type": "quantitative", "scale": {"domain": [0, 1000], "nice": false}, "axis": {"values": [0, 500, 1000], "labelExpr": "datum.value == 0 ? '0' : datum.value + 'k'", "title": "steps"}}},
      "layer": [
        {"transform": [{"filter": "datum.method == 'SAC'"}], "mark": {"type": "area", "opacity": 0.2, "color": "#1f77b4"}, "encoding": {
          "y": {"field": "lo", "type": "quantitative", "scale": {"domain": [0, 6050], "nice": false}, "axis": {"values": [0, 2500, 5000], "format": "d", "title": "Return"}},
          "y2": {"field": "hi"}}},
        {"transform": [{"filter": "datum.method != 'SAC'"}], "mark": {"type": "area", "opacity": 0.2, "color": "#d62728"}, "encoding": {
          "y": {"field": "lo", "type": "quantitative", "axis": {"values": [0, 2500, 5000], "format": "d", "title": "Return"}},
          "y2": {"field": "hi"}}},
        {"mark": {"type": "line", "strokeWidth": 2.5}, "encoding": {
          "y": {"field": "ret", "type": "quantitative", "axis": {"values": [0, 2500, 5000], "format": "d", "title": "Return"}},
          "color": {"field": "method", "type": "nominal", "scale": {"domain": ["SAC", "SAC with buffer decay"], "range": ["#1f77b4", "#d62728"]}, "legend": null}}}
      ]
    },
    {
      "width": 223, "height": 184,
      "title": "Walker2d-v4",
      "data": {"name": "walk"},
      "encoding": {"x": {"field": "step", "type": "quantitative", "scale": {"domain": [0, 1000], "nice": false}, "axis": {"values": [0, 500, 1000], "labelExpr": "datum.value == 0 ? '0' : datum.value + 'k'", "title": "steps"}}},
      "layer": [
        {"transform": [{"filter": "datum.method == 'SAC'"}], "mark": {"type": "area", "opacity": 0.2, "color": "#1f77b4"}, "encoding": {
          "y": {"field": "lo", "type": "quantitative", "scale": {"domain": [0, 6000], "nice": false}, "axis": {"values": [0, 2500, 5000], "format": "d", "title": "Return"}},
          "y2": {"field": "hi"}}},
        {"transform": [{"filter": "datum.method != 'SAC'"}], "mark": {"type": "area", "opacity": 0.2, "color": "#d62728"}, "encoding": {
          "y": {"field": "lo", "type": "quantitative", "axis": {"values": [0, 2500, 5000], "format": "d", "title": "Return"}},
          "y2": {"field": "hi"}}},
        {"mark": {"type": "line", "strokeWidth": 2.5}, "encoding": {
          "y": {"field": "ret", "type": "quantitative", "axis": {"values": [0, 2500, 5000], "format": "d", "title": "Return"}},
          "color": {"field": "method", "type": "nominal", "scale": {"domain": ["SAC", "SAC with buffer decay"], "range": ["#1f77b4", "#d62728"]}, "legend": null}}}
      ]
    }
  ],
  "columns": 2,
  "spacing": {"row": 141, "column": 106},
  "bounds": "flush",
  "resolve": {"scale": {"x": "independent", "y": "independent", "color": "independent"}, "legend": {"color": "independent"}},
  "config": {
    "font": "Liberation Sans",
    "view": {"fill": "#f1f1f1", "stroke": "#555555", "strokeWidth": 1.2},
    "axis": {"grid": false, "ticks": false, "domain": false, "labelFontSize": 14, "titleFontSize": 18, "titleFontWeight": "normal", "labelColor": "#262626", "titleColor": "#262626", "labelFlush": false, "labelPadding": 5, "titlePadding": 3},
    "axisY": {"labelPadding": 6, "titlePadding": 4},
    "title": {"fontSize": 20, "fontWeight": "normal", "color": "#262626", "offset": 0}
  }
}
